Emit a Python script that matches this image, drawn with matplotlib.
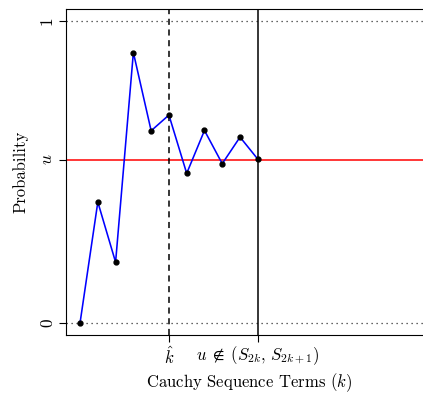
import matplotlib

matplotlib.use("Agg")
import matplotlib.pyplot as plt
import numpy as np

plt.rcParams["font.family"] = "serif"
plt.rcParams["font.serif"] = ["cmr10", "DejaVu Serif"]
plt.rcParams["mathtext.fontset"] = "cm"
plt.rcParams["axes.formatter.use_mathtext"] = True

# Cauchy sequence terms and their probabilities
k_vals = [1, 2, 3, 4, 5, 6, 7, 8, 9, 10, 11]
prob_vals = [0.0, 0.400, 0.201, 0.895, 0.636, 0.688, 0.495, 0.637, 0.527, 0.615, 0.542]
u_level = 0.54
k_hat = 6
k_stop = 11

y_ticks = [0, u_level, 1]
y_ticklabels = ["0", "$u$", "1"]
x_ticks = [k_hat, k_stop]
x_ticklabels = [r"$\hat{k}$", r"$u\;\notin\;(S_{2k},\,S_{2k+1})$"]

fig = plt.figure(figsize=(4.23, 3.94), dpi=100)
# axes run past the right edge like the cropped original
ax = fig.add_axes([66 / 423, 1 - 335 / 394, (432 - 66) / 423, (335 - 9) / 394])

ax.axhline(0, color="0.2", linestyle=(0, (1, 3)), linewidth=0.9)
ax.axhline(1, color="0.2", linestyle=(0, (1, 3)), linewidth=0.9)
ax.axhline(u_level, color="red", linewidth=1.1)
ax.axvline(k_hat, color="black", linestyle=(0, (4, 3)), linewidth=1.1)
ax.axvline(k_stop, color="black", linewidth=1.1)

ax.plot(k_vals, prob_vals, color="blue", linewidth=1.15, marker="o",
        markersize=3.5, markerfacecolor="black", markeredgecolor="black", zorder=3)

ax.set_xlim(0.21, 20.8)
ax.set_ylim(-0.04, 1.039)

ax.set_yticks(y_ticks)
ax.set_yticklabels(y_ticklabels, rotation=90, va="center", fontsize=12.5)
ax.set_xticks(x_ticks)
ax.set_xticklabels(x_ticklabels, fontsize=12)
ax.tick_params(direction="out", length=5, width=0.8, pad=2)
ax.tick_params(axis="y", pad=3)

ax.set_xlabel("Cauchy Sequence Terms ($k$)", fontsize=12, labelpad=3)
ax.set_ylabel("Probability", fontsize=12, labelpad=8)

for s in ax.spines.values():
    s.set_linewidth(0.8)

plt.savefig("out.png", dpi=100)
plt.close(fig)
